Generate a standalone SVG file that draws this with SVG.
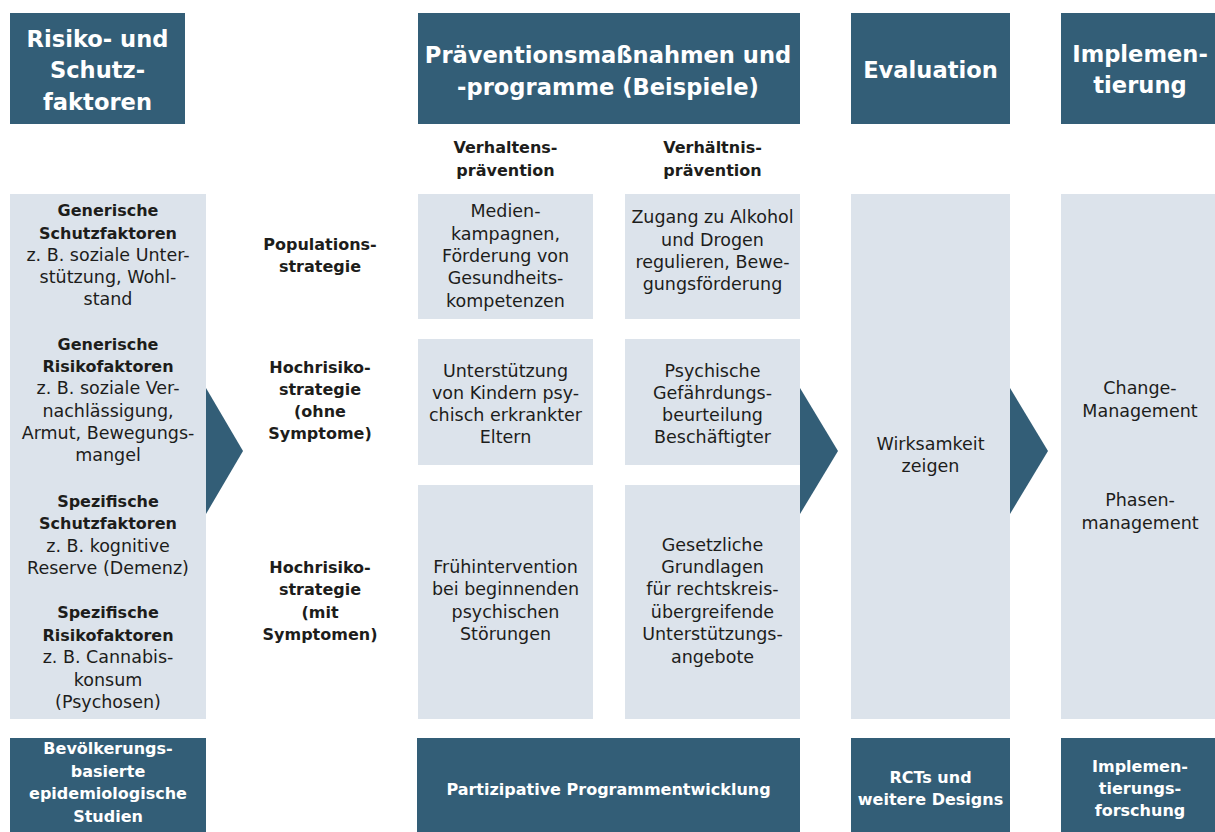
<svg xmlns="http://www.w3.org/2000/svg" width="1215" height="832" viewBox="0 0 1215 832">
<style>
.dark{fill:#335e77}
.light{fill:#dce3eb}
.arrow{fill:#335e77}
text{font-family:"DejaVu Sans","Liberation Sans",sans-serif;text-anchor:middle}
.h{font-size:22.6px;font-weight:bold;fill:#ffffff}
.hb{font-size:16px;font-weight:bold;fill:#ffffff}
.b{font-size:16px;font-weight:bold;fill:#1d1d1b}
.r{font-size:17.5px;fill:#1d1d1b}
</style>
<rect width="1215" height="832" fill="#ffffff"/>

<g id="connectors">
<polygon class="arrow" points="206,388 243,451 206,514"/>
<polygon class="arrow" points="800,388 838,451 800,514"/>
<polygon class="arrow" points="1010,388 1048,451 1010,514"/>
</g>

<g id="head-risiko">
<rect class="dark" x="10" y="13" width="175" height="111"/>
<text class="h" x="97.5" y="46.5">Risiko- und</text>
<text class="h" x="97.5" y="78">Schutz-</text>
<text class="h" x="97.5" y="110">faktoren</text>
</g>
<g id="head-praevention">
<rect class="dark" x="418" y="13" width="382" height="111"/>
<text class="h" x="608" y="62.5">Präventionsmaßnahmen und</text>
<text class="h" x="608" y="94.5">-programme (Beispiele)</text>
</g>
<g id="head-evaluation">
<rect class="dark" x="851" y="13" width="159" height="111"/>
<text class="h" x="930.5" y="78">Evaluation</text>
</g>
<g id="head-implementierung">
<rect class="dark" x="1061" y="13" width="154" height="111"/>
<text class="h" x="1140" y="61.5">Implemen-</text>
<text class="h" x="1140" y="92.5">tierung</text>
</g>

<g id="sub-verhaltens">
<text class="b" x="505.5" y="153">Verhaltens-</text>
<text class="b" x="505.5" y="175.5">prävention</text>
</g>
<g id="sub-verhaeltnis">
<text class="b" x="712.5" y="153">Verhältnis-</text>
<text class="b" x="712.5" y="175.5">prävention</text>
</g>

<g id="faktoren">
<rect class="light" x="10" y="194" width="196" height="525"/>
<text class="b" x="108" y="216">Generische</text>
<text class="b" x="108" y="238.5">Schutzfaktoren</text>
<text class="r" x="108" y="260.5">z. B. soziale Unter-</text>
<text class="r" x="108" y="283">stützung, Wohl-</text>
<text class="r" x="108" y="305">stand</text>
<text class="b" x="108" y="349.5">Generische</text>
<text class="b" x="108" y="372">Risikofaktoren</text>
<text class="r" x="108" y="394">z. B. soziale Ver-</text>
<text class="r" x="108" y="416.5">nachlässigung,</text>
<text class="r" x="108" y="438.5">Armut, Bewegungs-</text>
<text class="r" x="108" y="461">mangel</text>
<text class="b" x="108" y="506.5">Spezifische</text>
<text class="b" x="108" y="529">Schutzfaktoren</text>
<text class="r" x="108" y="551.5">z. B. kognitive</text>
<text class="r" x="108" y="573.5">Reserve (Demenz)</text>
<text class="b" x="108" y="618">Spezifische</text>
<text class="b" x="108" y="640.5">Risikofaktoren</text>
<text class="r" x="108" y="663">z. B. Cannabis-</text>
<text class="r" x="108" y="685.5">konsum</text>
<text class="r" x="108" y="708">(Psychosen)</text>
</g>

<g id="label-population">
<text class="b" x="320" y="250">Populations-</text>
<text class="b" x="320" y="272">strategie</text>
</g>
<g id="label-hochrisiko-ohne">
<text class="b" x="320" y="372.5">Hochrisiko-</text>
<text class="b" x="320" y="394.5">strategie</text>
<text class="b" x="320" y="416.5">(ohne</text>
<text class="b" x="320" y="438.5">Symptome)</text>
</g>
<g id="label-hochrisiko-mit">
<text class="b" x="320" y="573">Hochrisiko-</text>
<text class="b" x="320" y="595">strategie</text>
<text class="b" x="320" y="617.5">(mit</text>
<text class="b" x="320" y="640">Symptomen)</text>
</g>

<g id="verhalten-pop">
<rect class="light" x="418" y="194" width="175" height="125"/>
<text class="r" x="505.5" y="217">Medien-</text>
<text class="r" x="505.5" y="239.5">kampagnen,</text>
<text class="r" x="505.5" y="262">Förderung von</text>
<text class="r" x="505.5" y="284">Gesundheits-</text>
<text class="r" x="505.5" y="306.5">kompetenzen</text>
</g>
<g id="verhaeltnis-pop">
<rect class="light" x="625" y="194" width="175" height="125"/>
<text class="r" x="712.5" y="223">Zugang zu Alkohol</text>
<text class="r" x="712.5" y="245.5">und Drogen</text>
<text class="r" x="712.5" y="268">regulieren, Bewe-</text>
<text class="r" x="712.5" y="290">gungsförderung</text>
</g>
<g id="verhalten-ohne">
<rect class="light" x="418" y="339" width="175" height="126"/>
<text class="r" x="505.5" y="376.5">Unterstützung</text>
<text class="r" x="505.5" y="399">von Kindern psy-</text>
<text class="r" x="505.5" y="421">chisch erkrankter</text>
<text class="r" x="505.5" y="443">Eltern</text>
</g>
<g id="verhaeltnis-ohne">
<rect class="light" x="625" y="339" width="175" height="126"/>
<text class="r" x="712.5" y="376.5">Psychische</text>
<text class="r" x="712.5" y="399">Gefährdungs-</text>
<text class="r" x="712.5" y="421">beurteilung</text>
<text class="r" x="712.5" y="443">Beschäftigter</text>
</g>
<g id="verhalten-mit">
<rect class="light" x="418" y="485" width="175" height="234"/>
<text class="r" x="505.5" y="573">Frühintervention</text>
<text class="r" x="505.5" y="595">bei beginnenden</text>
<text class="r" x="505.5" y="617.5">psychischen</text>
<text class="r" x="505.5" y="640">Störungen</text>
</g>
<g id="verhaeltnis-mit">
<rect class="light" x="625" y="485" width="175" height="234"/>
<text class="r" x="712.5" y="551">Gesetzliche</text>
<text class="r" x="712.5" y="573">Grundlagen</text>
<text class="r" x="712.5" y="595">für rechtskreis-</text>
<text class="r" x="712.5" y="617.5">übergreifende</text>
<text class="r" x="712.5" y="640">Unterstützungs-</text>
<text class="r" x="712.5" y="662.5">angebote</text>
</g>

<g id="evaluation">
<rect class="light" x="851" y="194" width="159" height="525"/>
<text class="r" x="930.5" y="450">Wirksamkeit</text>
<text class="r" x="930.5" y="472">zeigen</text>
</g>
<g id="implementierung">
<rect class="light" x="1061" y="194" width="154" height="525"/>
<text class="r" x="1140" y="393.5">Change-</text>
<text class="r" x="1140" y="416.5">Management</text>
<text class="r" x="1140" y="506">Phasen-</text>
<text class="r" x="1140" y="528.5">management</text>
</g>

<g id="foot-studien">
<rect class="dark" x="10" y="738" width="196" height="94"/>
<text class="hb" x="108" y="754">Bevölkerungs-</text>
<text class="hb" x="108" y="776.5">basierte</text>
<text class="hb" x="108" y="799">epidemiologische</text>
<text class="hb" x="108" y="821.5">Studien</text>
</g>
<g id="foot-partizipativ">
<rect class="dark" x="417" y="738" width="383" height="94"/>
<text class="hb" x="608.5" y="795">Partizipative Programmentwicklung</text>
</g>
<g id="foot-rcts">
<rect class="dark" x="851" y="738" width="159" height="94"/>
<text class="hb" x="930.5" y="782.5">RCTs und</text>
<text class="hb" x="930.5" y="805">weitere Designs</text>
</g>
<g id="foot-forschung">
<rect class="dark" x="1061" y="738" width="154" height="94"/>
<text class="hb" x="1140" y="771.5">Implemen-</text>
<text class="hb" x="1140" y="793.5">tierungs-</text>
<text class="hb" x="1140" y="816">forschung</text>
</g>
</svg>
